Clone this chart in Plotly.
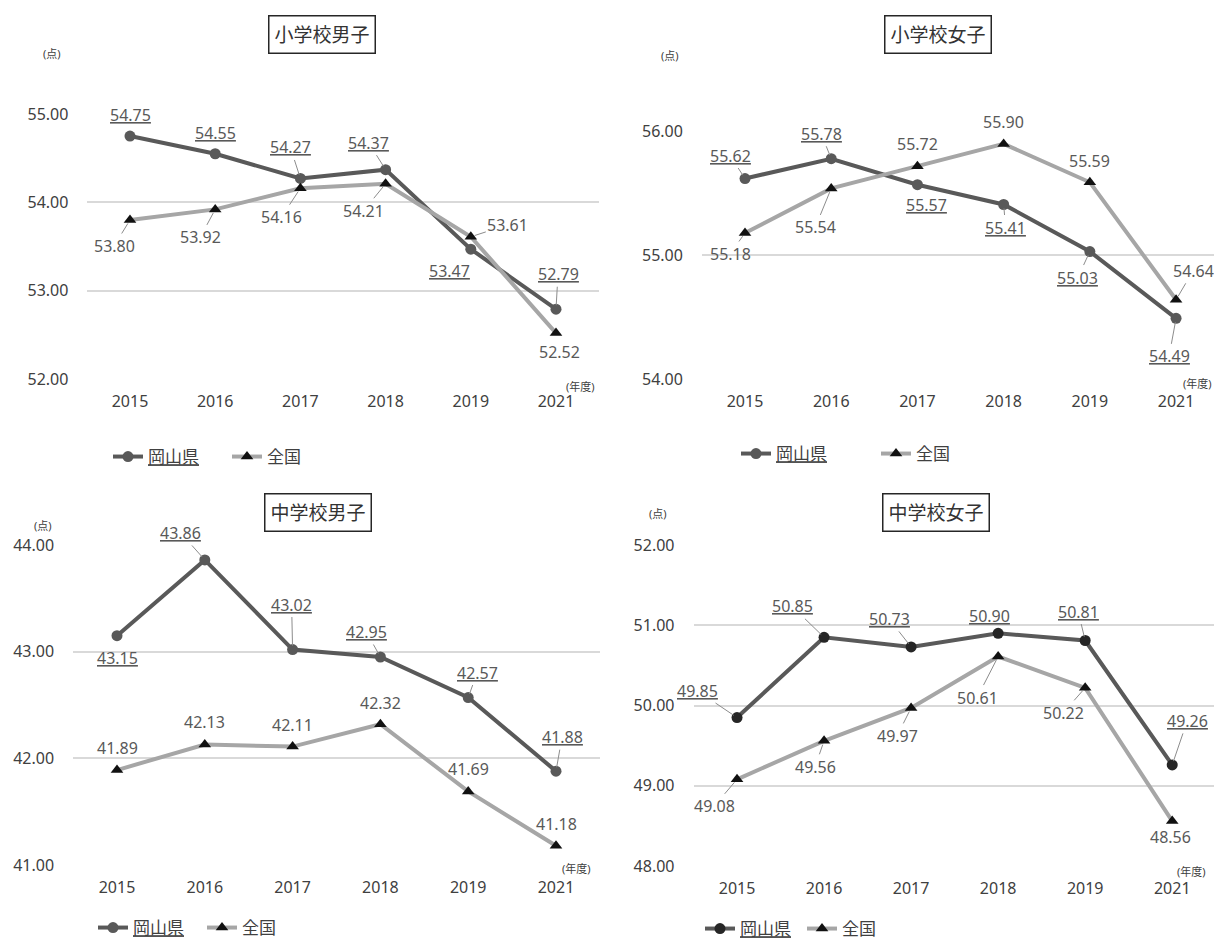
import plotly.graph_objects as go

# 年度 (x categories)
years = ["2015", "2016", "2017", "2018", "2019", "2021"]

# 小学校男子
elem_boys_okayama = [54.75, 54.55, 54.27, 54.37, 53.47, 52.79]
elem_boys_national = [53.80, 53.92, 54.16, 54.21, 53.61, 52.52]
# 小学校女子
elem_girls_okayama = [55.62, 55.78, 55.57, 55.41, 55.03, 54.49]
elem_girls_national = [55.18, 55.54, 55.72, 55.90, 55.59, 54.64]
# 中学校男子
jh_boys_okayama = [43.15, 43.86, 43.02, 42.95, 42.57, 41.88]
jh_boys_national = [41.89, 42.13, 42.11, 42.32, 41.69, 41.18]
# 中学校女子
jh_girls_okayama = [49.85, 50.85, 50.73, 50.90, 50.81, 49.26]
jh_girls_national = [49.08, 49.56, 49.97, 50.61, 50.22, 48.56]

panel_titles = ["小学校男子", "小学校女子", "中学校男子", "中学校女子"]
y_ticks = [
    [52, 53, 54, 55],
    [54, 55, 56],
    [41, 42, 43, 44],
    [48, 49, 50, 51, 52],
]

W, H = 1214, 943
FONT = "Noto Sans, Noto Sans CJK JP, sans-serif"
DARK = "#595959"
LIGHT = "#a6a6a6"
GRID = "#d9d9d9"
TXT = "#595959"
TICK = "#404040"

# layout of each panel in pixels: plot left, plot right, top, bottom, x range end
panels = [
    dict(left=87.4, right=598.6, top=114, bottom=379, xmax=5.5),
    dict(left=701.9, right=1214, top=131.5, bottom=379, xmax=5.44),
    dict(left=73.1, right=599.9, top=545, bottom=865, xmax=5.5),
    dict(left=693.5, right=1214, top=545, bottom=866, xmax=5.48),
]

series = [
    (elem_boys_okayama, elem_boys_national),
    (elem_girls_okayama, elem_girls_national),
    (jh_boys_okayama, jh_boys_national),
    (jh_girls_okayama, jh_girls_national),
]

# label offsets (dx, dy in px from the point) and whether a leader line is drawn
label_pos_okayama = [
    [(0, -21, 0), (0, -21, 0), (-10, -31, 1), (-17, -27, 1), (-21, 22, 0), (2, -35, 1)],
    [(-15, -23, 1), (-10, -25, 1), (9, 20, 0), (2, 23, 1), (-12, 26, 1), (-7, 38, 1)],
    [(0, 22, 0), (-24, -27, 1), (-1, -45, 1), (-14, -25, 1), (9, -25, 1), (6, -34, 1)],
    [(-40, -27, 1), (-32, -31, 1), (-22, -28, 1), (-9, -17, 0), (-7, -29, 1), (15, -44, 1)],
]
label_pos_national = [
    [(-16, 26, 1), (-15, 28, 1), (-19, 29, 1), (-22, 27, 1), (37, -12, 1), (3, 19, 0)],
    [(-15, 21, 1), (-16, 39, 1), (0, -22, 0), (0, -22, 0), (0, -21, 0), (17, -29, 1)],
    [(0, -22, 0), (0, -22, 0), (0, -22, 0), (0, -21, 0), (0, -22, 0), (0, -22, 0)],
    [(-23, 27, 1), (-9, 26, 1), (-14, 28, 1), (-21, 41, 1), (-22, 25, 1), (-2, 16, 0)],
]

title_centers = [(322, 35), (938, 35), (318, 512), (936, 512)]
unit_pos = [(52, 53), (670, 55), (43, 525), (658, 513)]
nendo_pos = [(580, 386), (1197, 384), (576, 868), (1191, 871)]
legend_pos = [(108, 457, 74), (736, 454, 95), (93, 928, 64), (700, 929, 57)]
okayama_marker_color = [DARK, DARK, DARK, "#262626"]

fig = go.Figure()
annotations = []
layout = {}

for i, (p, (oka, nat)) in enumerate(zip(panels, series)):
    n = "" if i == 0 else str(i + 1)
    xa, ya = "x" + n, "y" + n
    leg = "legend" + n
    fig.add_trace(go.Scatter(
        x=years, y=oka, name="<u>岡山県</u>", mode="lines+markers",
        line=dict(color=DARK, width=4),
        marker=dict(symbol="circle", size=11, color=okayama_marker_color[i]),
        xaxis=xa, yaxis=ya, legend=leg, cliponaxis=False,
    ))
    fig.add_trace(go.Scatter(
        x=years, y=nat, name="全国", mode="lines+markers",
        line=dict(color=LIGHT, width=4),
        marker=dict(symbol="triangle-up", size=11, color="#111111"),
        xaxis=xa, yaxis=ya, legend=leg, cliponaxis=False,
    ))

    layout["xaxis" + n] = dict(
        domain=[p["left"] / W, p["right"] / W], anchor=ya,
        type="category", range=[-0.5, p["xmax"]],
        showgrid=False, zeroline=False, showline=False, ticks="",
        tickfont=dict(size=16, color=TICK, family=FONT),
        ticklabelstandoff=11,
    )
    layout["yaxis" + n] = dict(
        domain=[1 - p["bottom"] / H, 1 - p["top"] / H], anchor=xa,
        range=[y_ticks[i][0], y_ticks[i][-1]],
        tickvals=y_ticks[i], tickformat=".2f",
        showgrid=True, gridcolor=GRID, gridwidth=1.5,
        zeroline=False, showline=False, ticks="",
        tickfont=dict(size=16, color=TICK, family=FONT),
        ticklabelstandoff=18,
    )

    # value labels (x given as category index)
    for vals, pos, underline in ((oka, label_pos_okayama[i], True),
                                  (nat, label_pos_national[i], False)):
        for j, (v, (dx, dy, lead)) in enumerate(zip(vals, pos)):
            txt = f"{v:.2f}"
            if underline:
                txt = f"<u>{txt}</u>"
            annotations.append(dict(
                x=j, y=v, xref=xa, yref=ya, text=txt,
                showarrow=True, ax=dx, ay=dy, arrowhead=0, arrowwidth=1,
                arrowcolor="#8c8c8c" if lead else "rgba(0,0,0,0)",
                standoff=4,
                font=dict(size=16, color=TXT, family=FONT),
            ))

    # panel title in a box
    tx, ty = title_centers[i]
    annotations.append(dict(
        x=tx / W, y=1 - ty / H, xref="paper", yref="paper", showarrow=False,
        text=panel_titles[i], font=dict(size=19, color="#333333", family=FONT),
        bordercolor="#262626", borderwidth=1.5, borderpad=5, bgcolor="white",
        xanchor="center", yanchor="middle",
    ))
    ux, uy = unit_pos[i]
    annotations.append(dict(
        x=ux / W, y=1 - uy / H, xref="paper", yref="paper", showarrow=False,
        text="(点)", font=dict(size=11, color=TICK, family=FONT),
        xanchor="center", yanchor="middle",
    ))
    nx, ny = nendo_pos[i]
    annotations.append(dict(
        x=nx / W, y=1 - ny / H, xref="paper", yref="paper", showarrow=False,
        text="(年度)", font=dict(size=11, color=TICK, family=FONT),
        xanchor="center", yanchor="middle",
    ))

    lx, ly, ew = legend_pos[i]
    layout[leg] = dict(
        orientation="h", x=lx / W, y=1 - ly / H, xanchor="left", yanchor="middle",
        xref="paper", yref="paper", bgcolor="rgba(0,0,0,0)",
        font=dict(size=17, color=TICK, family=FONT),
        entrywidth=ew, itemwidth=30,
    )

fig.update_layout(
    width=W, height=H,
    margin=dict(l=0, r=0, t=0, b=0, autoexpand=False),
    paper_bgcolor="white", plot_bgcolor="white",
    font=dict(family=FONT, color=TXT),
    showlegend=True,
    annotations=annotations,
    **layout,
)

fig.write_html("out.html")
